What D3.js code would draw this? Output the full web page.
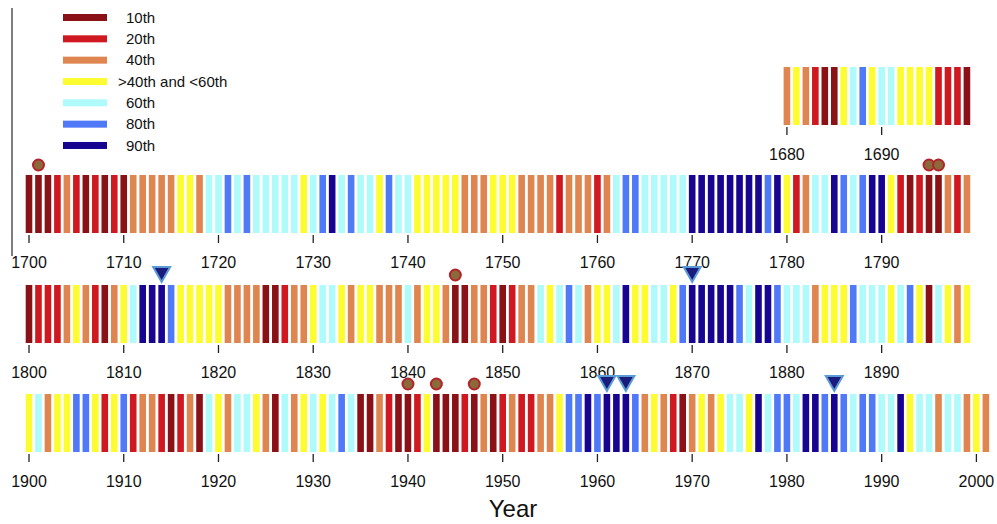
<!DOCTYPE html>
<html lang="en">
	<head>
		<meta charset="utf-8">
		<script src="https://d3js.org/d3.v7.min.js"></script>
		<style>
		body {
			margin: 0;
			font-family: 'Liberation Sans', Arial, sans-serif;
			background: #fff;
		}
		</style>
	</head>
<body>
	<div id="chart"></div>

	<script type="text/javascript">

////////////////////////////////////////////////////////////
//////////////////////// Data //////////////////////////////
////////////////////////////////////////////////////////////

// percentile classes, 1 = 10th ... 7 = 90th
var categories = ["10th", "20th", "40th", ">40th and <60th", "60th", "80th", "90th"];
var colors = ["#8a1116", "#cf1820", "#de8550", "#fcfc30", "#affafa", "#4f79f7", "#170592"];

var years1680 = [3,4,3,2,1,1,4,5,6,4, 5,5,4,4,4,4,2,2,2,1];

var years1700 = [1,1,1,2,3,2,1,2,1,2, 1,3,3,3,3,3,4,4,3,5,
                 5,6,5,6,5,5,5,5,5,4, 5,6,7,5,6,5,5,4,6,5,
                 5,4,4,4,4,4,3,3,3,4, 4,4,3,3,3,3,2,3,3,3,
                 2,3,5,6,6,5,5,5,5,5, 7,7,7,7,7,7,7,7,6,7,
                 4,2,3,5,5,7,6,5,6,7, 7,4,2,1,2,1,1,3,2,3];

var years1800 = [1,2,2,2,3,4,3,2,1,3, 4,5,7,7,7,6,4,4,4,4,
                 4,3,3,3,3,1,1,2,3,3, 4,5,5,4,3,4,4,3,3,3,
                 5,3,4,4,3,1,1,3,3,2, 1,2,3,3,5,4,5,6,5,3,
                 4,4,5,7,4,4,5,5,4,6, 7,7,7,7,7,6,5,7,7,6,
                 5,5,5,3,4,4,4,6,5,5, 5,4,5,6,4,1,5,4,3,4];

var years1900 = [4,5,3,4,4,6,6,4,2,4, 6,2,3,3,2,1,2,3,1,5,
                 4,3,5,5,4,3,1,5,3,4, 5,4,5,6,5,1,1,3,2,1,
                 1,2,4,1,1,1,2,1,3,1, 2,3,2,2,3,3,4,6,6,7,
                 6,7,7,7,6,3,4,3,2,1, 3,4,3,4,5,5,4,7,5,6,
                 6,5,7,7,6,7,6,5,6,6, 5,5,7,4,5,5,3,5,5,3,
                 4,3];

var circleYears = [1701, 1795, 1796, 1845, 1940, 1943, 1947];
var triangleYears = [1814, 1870, 1961, 1963, 1985];

////////////////////////////////////////////////////////////
////////////////////// Layout //////////////////////////////
////////////////////////////////////////////////////////////

var width = 997, height = 524;

// each row: first year, values, year that sits at the left edge, bar top
var rows = [
	{start: 1680, values: years1680, base: 1600, top: 67},
	{start: 1700, values: years1700, base: 1700, top: 175},
	{start: 1800, values: years1800, base: 1800, top: 285},
	{start: 1900, values: years1900, base: 1900, top: 394}
];
var barH = 58, barW = 6.6;

var x = d3.scaleLinear().domain([0, 100]).range([29, 976.4]);
var color = d3.scaleOrdinal().domain(d3.range(1, 8)).range(colors);

var svg = d3.select("#chart").append("svg")
	.attr("width", width)
	.attr("height", height);

// left axis line of the upper panel
svg.append("line")
	.attr("x1", 12).attr("x2", 12)
	.attr("y1", 8).attr("y2", 256)
	.style("stroke", "#555")
	.style("stroke-width", 1.5);

////////////////////////////////////////////////////////////
/////////////////////// Rows ///////////////////////////////
////////////////////////////////////////////////////////////

rows.forEach(function(r) {
	var g = svg.append("g");
	var data = r.values.map(function(v, i) { return {year: r.start + i, v: v}; });

	g.selectAll("rect")
		.data(data)
		.enter().append("rect")
		.attr("x", function(d) { return x(d.year - r.base) - barW / 2; })
		.attr("y", r.top)
		.attr("width", barW)
		.attr("height", barH)
		.style("fill", function(d) { return color(d.v); });

	var last = r.start + r.values.length - 1;
	var ticks = d3.range(Math.ceil(r.start / 10) * 10, last + 1, 10);
	var bottom = r.top + barH;

	g.selectAll("line.tick")
		.data(ticks)
		.enter().append("line")
		.attr("class", "tick")
		.attr("x1", function(d) { return x(d - r.base); })
		.attr("x2", function(d) { return x(d - r.base); })
		.attr("y1", bottom + 2)
		.attr("y2", bottom + 10)
		.style("stroke", "#222")
		.style("stroke-width", 1.3);

	g.selectAll("text.tick")
		.data(ticks)
		.enter().append("text")
		.attr("class", "tick")
		.attr("x", function(d) { return x(d - r.base); })
		.attr("y", bottom + 35)
		.attr("text-anchor", "middle")
		.style("font-size", "16px")
		.style("fill", "#111")
		.text(function(d) { return d; });

	// markers above the bars
	var inRow = function(y) { return y >= r.start && y <= last && r.base !== 1600; };

	g.selectAll("circle")
		.data(circleYears.filter(inRow))
		.enter().append("circle")
		.attr("cx", function(d) { return x(d - r.base); })
		.attr("cy", r.top - 10)
		.attr("r", 5.5)
		.style("fill", "#8a6a3a")
		.style("stroke", "#b3242a")
		.style("stroke-width", 2);

	g.selectAll("path.tri")
		.data(triangleYears.filter(inRow))
		.enter().append("path")
		.attr("class", "tri")
		.attr("d", function(d) {
			var cx = x(d - r.base), t = r.top - 18;
			return "M" + (cx - 8.5) + "," + t + "L" + (cx + 8.5) + "," + t + "L" + cx + "," + (t + 15) + "Z";
		})
		.style("fill", "#1b1b7e")
		.style("stroke", "#5b9bd5")
		.style("stroke-width", 2);
});

// axis title
svg.append("text")
	.attr("x", 513)
	.attr("y", 517)
	.attr("text-anchor", "middle")
	.style("font-size", "24px")
	.style("fill", "#111")
	.text("Year");

////////////////////////////////////////////////////////////
////////////////////// Legend //////////////////////////////
////////////////////////////////////////////////////////////

var legend = svg.selectAll("g.legend")
	.data(categories)
	.enter().append("g")
	.attr("class", "legend")
	.attr("transform", function(d, i) { return "translate(0," + (17.5 + i * 21.33) + ")"; });

legend.append("rect")
	.attr("x", 63)
	.attr("y", -3.5)
	.attr("width", 44)
	.attr("height", 7)
	.style("fill", function(d, i) { return colors[i]; });

legend.append("text")
	.attr("x", function(d) { return d.charAt(0) === ">" ? 118 : 126; })
	.attr("dy", "0.35em")
	.style("font-size", "15px")
	.style("fill", "#111")
	.text(function(d) { return d; });

	</script>
</body>
</html>
